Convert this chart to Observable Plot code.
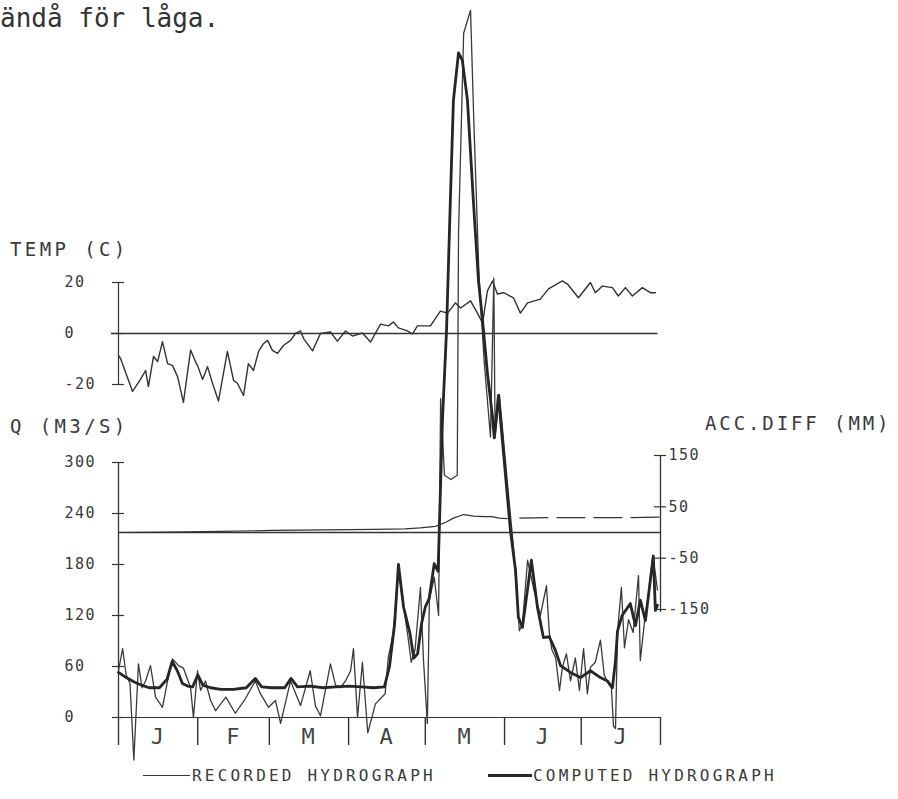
<!DOCTYPE html>
<html><head><meta charset="utf-8">
<script src="https://cdn.jsdelivr.net/npm/d3@7"></script>
<script src="https://cdn.jsdelivr.net/npm/@observablehq/plot@0.6"></script>
<style>
html,body{margin:0;padding:0;background:#fff;}
#wrap{position:relative;width:898px;height:799px;overflow:hidden;background:#fff;}
.lbl{position:absolute;font-family:"DejaVu Sans Mono",monospace;color:#3a3a3a;white-space:pre;line-height:1;}
.ln{position:absolute;}
</style></head><body>
<div id="wrap">
  <div class="lbl" style="left:0px;top:5px;font-size:26px;color:#333;">ändå för låga.</div>
  <div class="lbl" style="left:10px;top:240px;font-size:19px;letter-spacing:3.4px;">TEMP (C)</div>
  <div class="lbl" style="left:10px;top:417px;font-size:19px;letter-spacing:3.4px;">Q (M3/S)</div>
  <div class="lbl" style="left:705px;top:414px;font-size:19px;letter-spacing:2.9px;">ACC.DIFF (MM)</div>
  <div class="ln" style="left:143px;top:775px;width:47px;border-top:1.3px solid #333;"></div>
  <div class="lbl" style="left:192px;top:768px;font-size:16px;letter-spacing:3.2px;">RECORDED HYDROGRAPH</div>
  <div class="ln" style="left:488px;top:774px;width:44px;border-top:3px solid #2a2a2a;"></div>
  <div class="lbl" style="left:533px;top:768px;font-size:16px;letter-spacing:3.2px;">COMPUTED HYDROGRAPH</div>
</div>
<script>
// ---- axis ticks / categories ----
const monthStart = [0, 31, 59, 90, 120, 151, 181, 212];
const monthLabel = ["J", "F", "M", "A", "M", "J", "J"];
const tempTicks = [-20, 0, 20];
const qTicks = [0, 60, 120, 180, 240, 300];
const accTicks = [-150, -50, 50, 150];

// ---- temperature (C), day of year from 1 Jan ----
const tempDay = [0,0.8,5.5,8.6,10.6,11.7,13.7,15.3,17.2,19.2,21.1,23.1,25.4,28.2,30.1,30.9,32.9,34.8,36.8,39.1,42.6,45,46.5,48.9,50.8,52.8,54.8,56.7,58.3,60.2,62.2,64.5,67.3,69.2,71.2,72.4,75.9,79,82.9,85.6,88.8,91.5,95.4,98.6,102.5,105.6,107.5,109.5,113,115,116.9,122,125.9,128.7,131.8,133.8,137.7,140.4,142.4,144.3,146.3,148.2,150.6,154.5,157.2,160,165,168.2,173.6,175.6,179.9,184.6,186.5,189.3,193.2,195.5,198.3,201,204.9,208,210];
const tempC = [-8.6,-9.8,-22.7,-18,-14.5,-20.8,-9,-11,-3.2,-11.8,-12.5,-16.9,-27,-6.5,-11,-12.5,-18,-13,-19.6,-26.5,-7,-18.4,-19.5,-24.3,-11.8,-14.5,-7,-4,-2.7,-6.6,-7.8,-4.7,-2.7,0,1,-2,-6.8,0,0.6,-3,1,-1,0.2,-3.3,3.7,3,4.5,2.2,1,-0.2,3,3,8.8,8,12,10,12.8,8,4,16.7,20.6,15.5,16,14,8,12,13.5,17.5,20.6,19.4,14,20,16,18.6,18,14.7,18,14.7,18,16,16];

// ---- recorded hydrograph Q (m3/s) ----
const recDay = [0,1.6,3,4.5,6,7.8,9.2,10.6,12.5,14.5,17.2,19.2,21.1,23.5,25.4,28.2,29.3,30.9,32.1,34,36,38,42,45.7,49.6,53.5,55.5,58.7,61.4,63.4,67.3,71.2,75,77,79,82.9,84.9,86.8,88.8,90.8,91.9,93.5,95.4,97.5,100.5,104.3,105.5,107.5,109.5,111,113,114.5,116,118.1,119.3,120.8,121.6,123.5,125.2,126,127.5,130,132.5,133,135,137.7,139,141,143,145.5,146.8,147.3,149,152,154.5,155.3,156.8,158,160,162.5,165,167.4,168.5,169.5,171,172.5,173.6,175.2,176.8,178.7,180.3,181.9,183.4,184.6,186.5,188.5,190,191.6,192.8,193.6,194.4,195.2,196.7,197.9,199.5,201.3,203.4,204.1,206,207.3,208.9,210,210.8];
const recQ = [55,81,50,40,-50,63,35,43,61,24,12,43,69,61,58,35,0,55,32,43,20,8,24,5,22,43,28,12,20,-7,43,14,55,14,2,63,38,35,43,55,81,0,65,-18,16,28,70,100,175,140,100,65,80,153,67,-7,138,165,120,375,285,280,285,569,805,832,700,520,420,330,517,330,380,280,200,167,102,110,185,150,120,155,100,80,70,32,59,75,43,70,32,81,28,59,65,91,50,40,35,-10,-13,102,153,82,115,100,167,67,120,144,188,169,150];

// ---- computed hydrograph Q (m3/s) ----
const compDay = [0,3,6,9,12,16,19,21,23,25,27,29,31,33,36,40,45,50,53.5,56,60,65,67.5,70,75,80,85,90,95,100,104,106,108,109.5,111.5,114,115.5,117,118.5,120,121.5,123.5,125,126.7,128.3,129.8,131,133,134.5,136.5,138.8,140.8,142.4,144.3,146.3,147,148.6,150.6,153.3,155.3,156.4,158,161.5,163.9,166.2,168.5,170.9,172.9,176.8,180.7,184.6,188.5,191.2,193.2,194.4,195.2,197,200.2,202.2,204.1,206.1,208,209.2,210,210.8];
const compQ = [53,47,42,38,35,35,45,66,55,40,37,36,50,38,35,33,33,35,46,36,35,35,46,36,37,35,36,37,36,35,36,60,110,180,130,99,70,75,110,130,140,181,172,349,455,608,726,782,773,726,608,514,467,405,353,329,379,311,220,173,118,106,185,129,94,95,79,61,53,47,55,47,43,35,67,102,120,134,108,138,114,161,190,126,132];

// ---- accumulated difference (mm) ----
const accDay = [0,20,40,60,80,100,112,118,124,128,131,135,139,143,146,149,152];
const accMM = [0,1,2,4,5,6,7,9,12,20,28,35,32,31,31,28,27];
const accDashDay = [157,170,185,200,212];
const accDashMM = [28,29,29,29,30];

// ---- build tables ----
const tempData = tempDay.map((d, i) => ({day: d, t: tempC[i]}));
const recData = recDay.map((d, i) => ({day: d, q: recQ[i]}));
const compData = compDay.map((d, i) => ({day: d, q: compQ[i]}));
const accData = accDay.map((d, i) => ({day: d, a: accMM[i]}));
const accDashData = accDashDay.map((d, i) => ({day: d, a: accDashMM[i]}));
const monthData = monthLabel.map((m, i) => ({label: m, mid: (monthStart[i] + monthStart[i + 1]) / 2}));

const ink = "#333";
const FONT = "DejaVu Sans Mono";
const W = 898, H = 799;
const base = {
  width: W, height: H, marginLeft: 118, marginRight: 238,
  x: {domain: [0, 212], axis: null},
  style: {position: "absolute", left: "0px", top: "0px", background: "transparent", overflow: "visible"}
};

// Temperature panel
const tempPlot = Plot.plot({
  ...base,
  marginTop: 282, marginBottom: 799 - 384,
  y: {domain: [-20, 20], axis: null},
  marks: [
    Plot.ruleX([0], {y1: -20, y2: 20, stroke: ink, strokeWidth: 1.2}),
    Plot.ruleY(tempTicks, {y: d => d, x1: 0, x2: 0, insetLeft: -6, insetRight: -6, stroke: ink, strokeWidth: 1.2}),
    Plot.ruleY([0], {y: d => d, x1: 0, x2: 211, insetLeft: -7, stroke: ink, strokeWidth: 1.3}),
    Plot.text(tempTicks, {y: d => d, x: 0, text: d => String(d), textAnchor: "start", dx: -54, fontFamily: FONT, fontSize: 15, fill: "#3a3a3a"}),
    Plot.line(tempData, {x: "day", y: "t", stroke: ink, strokeWidth: 1.4})
  ]
});

// Discharge panel
const qPlot = Plot.plot({
  ...base,
  marginTop: 3, marginBottom: 82,
  y: {domain: [0, 840], axis: null},
  marks: [
    Plot.ruleX([0], {y1: 0, y2: 300, stroke: ink, strokeWidth: 1.3}),
    Plot.ruleY(qTicks, {y: d => d, x1: 0, x2: 0, insetLeft: -6, insetRight: -6, stroke: ink, strokeWidth: 1.2}),
    Plot.ruleY([0], {y: d => d, x1: 0, x2: 212, insetLeft: -4, stroke: ink, strokeWidth: 1.2}),
    Plot.ruleX(monthStart, {x: d => d, y1: 0, y2: 0, insetTop: 28, stroke: ink, strokeWidth: 1.4}),
    Plot.text(qTicks, {y: d => d, x: 0, text: d => String(d), textAnchor: "start", dx: -54, fontFamily: FONT, fontSize: 15, fill: "#3a3a3a"}),
    Plot.text(monthData, {x: "mid", y: 0, text: "label", dy: 19, fontFamily: FONT, fontSize: 22, fill: "#444"}),
    Plot.line(recData, {x: "day", y: "q", stroke: "#3a3a3a", strokeWidth: 1.3}),
    Plot.line(compData, {x: "day", y: "q", stroke: "#262626", strokeWidth: 2.8, strokeLinejoin: "round"})
  ]
});

// Accumulated difference panel
const accPlot = Plot.plot({
  ...base,
  marginTop: 455, marginBottom: 190,
  y: {domain: [-150, 150], axis: null},
  marks: [
    Plot.ruleX([212], {y1: -150, y2: 150, insetTop: 3, stroke: ink, strokeWidth: 1.3}),
    Plot.ruleY(accTicks, {y: d => d, x1: 212, x2: 212, insetLeft: -6, insetRight: -6, stroke: ink, strokeWidth: 1.2}),
    Plot.ruleY([0], {y: d => d, x1: 0, x2: 212, stroke: ink, strokeWidth: 1.3}),
    Plot.text(accTicks, {y: d => d, x: 212, text: d => String(d), textAnchor: "start", dx: 8, fontFamily: FONT, fontSize: 15, fill: "#3a3a3a"}),
    Plot.line(accData, {x: "day", y: "a", stroke: ink, strokeWidth: 1.2}),
    Plot.line(accDashData, {x: "day", y: "a", stroke: ink, strokeWidth: 1.2, strokeDasharray: "28,9"})
  ]
});

const wrap = document.getElementById("wrap");
for (const p of [tempPlot, qPlot, accPlot]) {
  p.querySelectorAll("text").forEach(t => t.setAttribute("letter-spacing", "1.5"));
  wrap.appendChild(p);
}
</script>
</body></html>
